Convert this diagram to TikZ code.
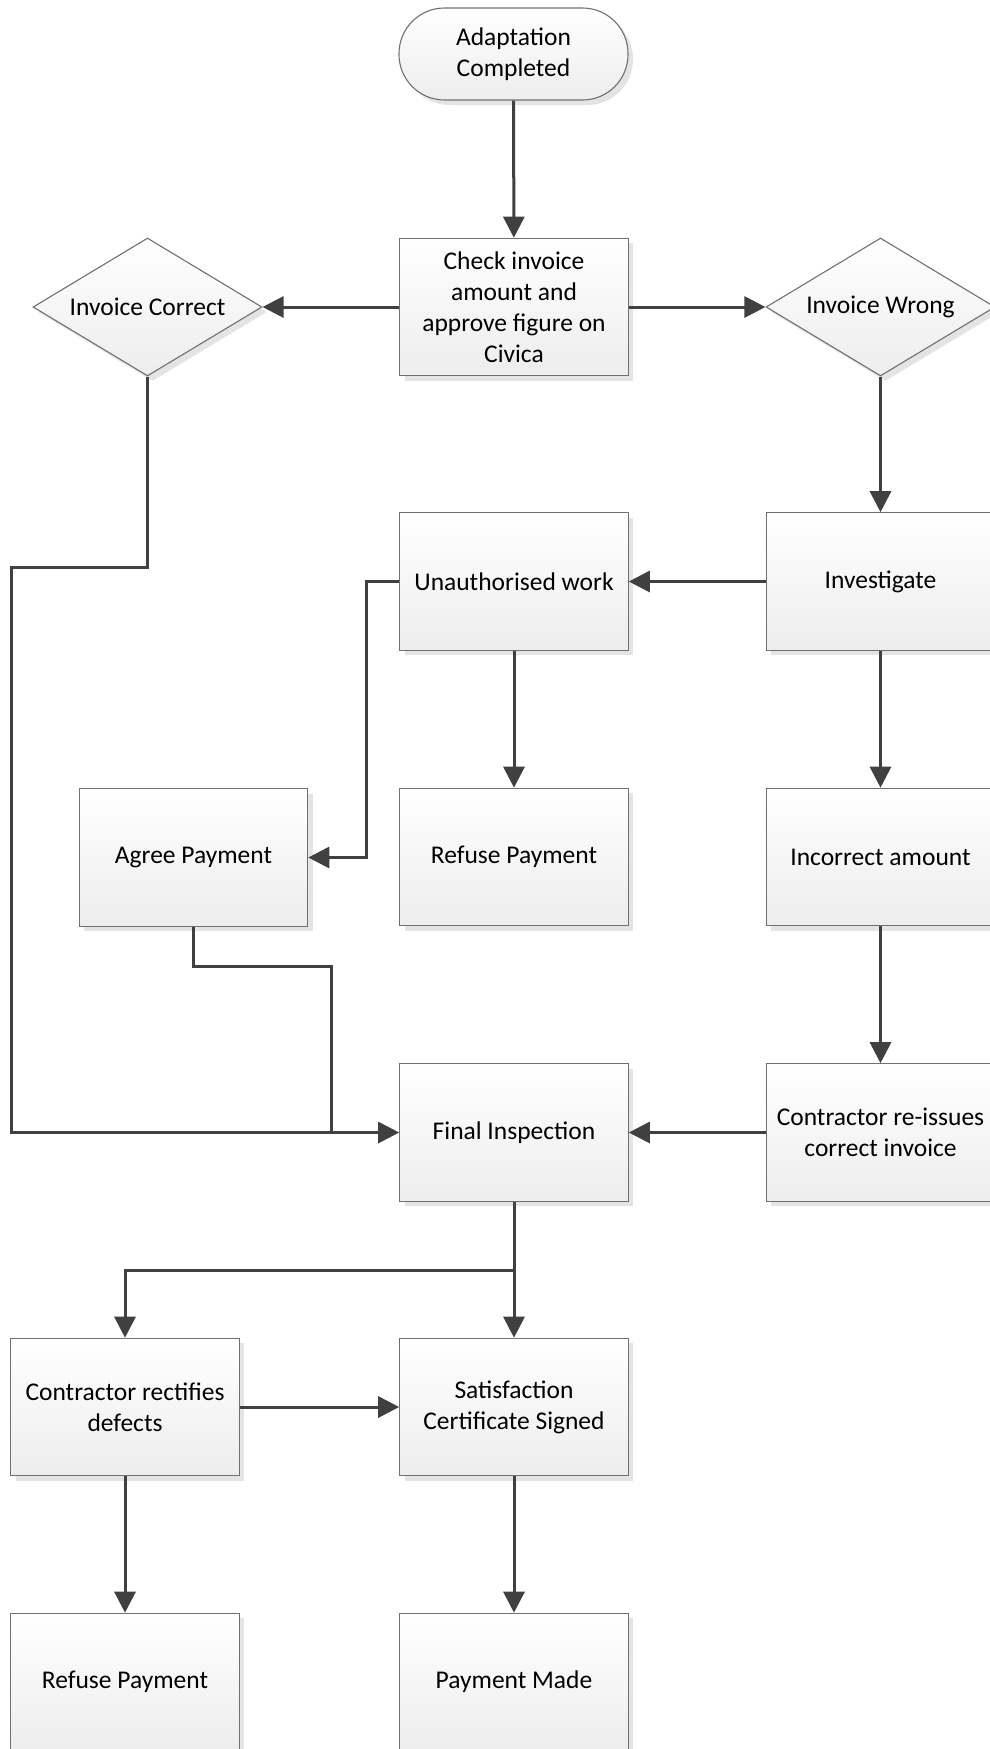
\documentclass[tikz,border=0pt]{standalone}
\usepackage{fontspec}
\setmainfont{Carlito}
\usetikzlibrary{shapes.geometric,shadows,arrows.meta}

\definecolor{linecol}{HTML}{404040}
\definecolor{bordercol}{HTML}{707070}
\definecolor{shadowcol}{HTML}{E4E4E4}
\definecolor{boxbot}{HTML}{EDEDED}

\tikzset{
  x=1pt, y=1pt,
  shapebase/.style={draw=bordercol, line width=1.1pt, top color=white, bottom color=boxbot,
    align=center, inner sep=0pt, font=\fontsize{25.5}{31}\selectfont,
    drop shadow={shadow xshift=5pt, shadow yshift=-5pt, fill=shadowcol, opacity=1}},
  procbox/.style={shapebase, rectangle, minimum width=228.5pt, minimum height=137.5pt},
  decision/.style={shapebase, diamond, aspect=1.66, minimum width=229pt, minimum height=138pt},
  terminal/.style={shapebase, rectangle, rounded corners=45.5pt, minimum width=229pt, minimum height=92pt},
  flow/.style={draw=linecol, line width=3pt, -{Triangle[length=21pt,width=21pt]}},
  plain/.style={draw=linecol, line width=3pt},
}

\begin{document}
\begin{tikzpicture}
\useasboundingbox (0,0) rectangle (990,-1749);

% nodes
\node[terminal] (start) at (513.5,-54) {Adaptation\\Completed};
\node[procbox]  (check) at (514,-307) {Check invoice\\amount and\\approve figure on\\Civica};
\node[decision] (ok)    at (147.5,-307) {Invoice Correct};
\node[decision] (wrong) at (880.5,-307) {Invoice Wrong};

\node[procbox] (unauth) at (514,-581.5) {Unauthorised work};
\node[procbox] (invest) at (880.5,-581.5) {Investigate};

\node[procbox] (agree)   at (193.5,-857.5) {Agree Payment};
\node[procbox] (refuseA) at (514,-857) {Refuse Payment};
\node[procbox] (amount)  at (880.5,-857) {Incorrect amount};

\node[procbox] (final)   at (514,-1132.5) {Final Inspection};
\node[procbox] (reissue) at (880.5,-1132.5) {Contractor re-issues\\correct invoice};

\node[procbox] (rectify) at (125,-1407) {Contractor rectifies\\defects};
\node[procbox] (signed)  at (514,-1407) {Satisfaction\\Certificate Signed};

\node[procbox] (refuseB) at (125,-1682) {Refuse Payment};
\node[procbox] (paid)    at (514,-1682) {Payment Made};

% bend points
\coordinate (okleft)   at (11,-567.5);
\coordinate (unleft)   at (366,-581.5);
\coordinate (agreejog) at (331,-966.5);
\coordinate (split)    at (514,-1270);

% connectors
\draw[flow] (start) -- (check);
\draw[flow] (check) -- (ok);
\draw[flow] (check) -- (wrong);
\draw[flow] (wrong) -- (invest);
\draw[flow] (invest) -- (unauth);
\draw[flow] (unauth) -- (refuseA);
\draw[flow] (unauth.west) -- (unleft) |- (agree.east);
\draw[flow] (invest) -- (amount);
\draw[flow] (amount) -- (reissue);
\draw[flow] (reissue) -- (final);
\draw[flow] (ok.south) |- (okleft) |- (final.west);
\draw[plain] (agree.south) |- (agreejog) -- (agreejog |- final.west);
\draw[flow] (final) -- (signed);
\draw[flow] (split) -| (rectify.north);
\draw[flow] (rectify) -- (signed);
\draw[flow] (rectify) -- (refuseB);
\draw[flow] (signed) -- (paid);
\end{tikzpicture}
\end{document}
